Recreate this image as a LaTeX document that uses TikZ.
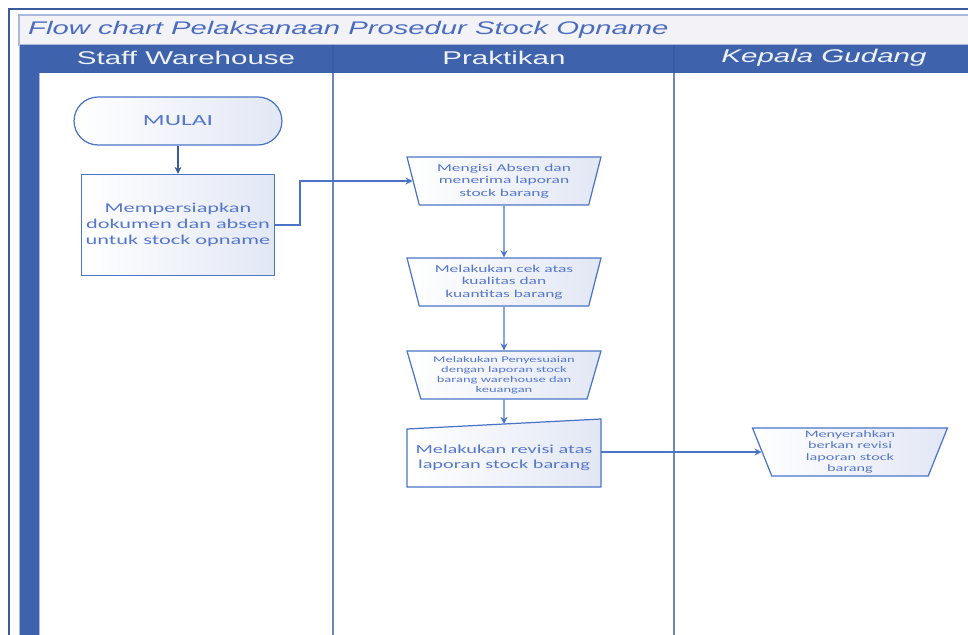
\documentclass[tikz,border=0pt]{standalone}
\usepackage{fontspec}
\usepackage{xcolor}
\usepackage{tikz}
\usetikzlibrary{shapes,arrows,positioning,calc,arrows.meta}

\newfontfamily\lanefont[FakeStretch=1.6]{Liberation Sans}
\newfontfamily\boxfont[FakeStretch=1.65]{Carlito}

\definecolor{headblue}{HTML}{3E62AC}
\definecolor{lineblue}{HTML}{4A74C6}
\definecolor{darkline}{HTML}{3A5C9C}
\definecolor{txtblue}{HTML}{5577CC}
\definecolor{shadeblue}{HTML}{E2E7F5}
\definecolor{titlegray}{HTML}{F3F3F7}
\definecolor{titleblue}{HTML}{4A6CC0}
\definecolor{lanegray}{HTML}{6E86BC}
\definecolor{framelight}{HTML}{A9B9DC}

\tikzset{
    flowline/.style={draw=lineblue, line width=0.7pt},
    flowarrow/.style={flowline, -{Stealth[length=4pt,width=4pt]}},
    shapebox/.style={draw=lineblue, line width=0.7pt, left color=white, right color=shadeblue,
        text=txtblue, align=center, inner sep=0pt},
    terminal/.style={shapebox, rectangle, rounded corners=0.48cm, minimum width=4.16cm, minimum height=0.96cm},
    process/.style={shapebox, rectangle, minimum width=3.86cm, minimum height=2.02cm},
    manualop/.style={shapebox, trapezium, shape border rotate=180, trapezium angle=70,
        trapezium stretches body, minimum width=3.88cm, minimum height=0.96cm},
    lanehead/.style={text=white!92!headblue, font=\lanefont\fontsize{10.5}{12}\selectfont}
}

\begin{document}
\begin{tikzpicture}[x=0.02cm, y=-0.02cm]
    \useasboundingbox (0,0) rectangle (968,635);

    % Frame
    \draw[darkline, line width=0.6pt] (9,9) rectangle (990,660);
    \draw[framelight, fill=titlegray, line width=0.6pt] (19,15) rectangle (990,45);
    \node[right, text=titleblue, font=\lanefont\itshape\fontsize{10.4}{12}\selectfont] (title) at (22,30)
        {Flow chart Pelaksanaan Prosedur Stock Opname};

    % Lanes
    \fill[headblue] (20,45) rectangle (990,73);
    \fill[headblue] (20,73) rectangle (39,660);
    \draw[framelight, line width=0.5pt] (19,45) -- (19,660);
    \draw[framelight, line width=0.5pt] (39.5,73) -- (39.5,660);
    \draw[darkline, line width=0.6pt] (333,45) -- (333,73);
    \draw[darkline, line width=0.6pt] (674,45) -- (674,73);
    \draw[lanegray, line width=1.4pt] (333,73) -- (333,660);
    \draw[lanegray, line width=1.4pt] (674,73) -- (674,660);
    \node[lanehead] (staff) at (186,58) {Staff Warehouse};
    \node[lanehead] (praktikan) at (504,58) {Praktikan};
    \node[lanehead, font=\lanefont\itshape\fontsize{10.5}{12}\selectfont] (kepala) at (824,58) {Kepala Gudang};

    % Staff Warehouse
    \node[terminal, font=\boxfont\fontsize{8.8}{10}\selectfont] (mulai) at (178,121) {MULAI};
    \node[process, font=\boxfont\fontsize{7.7}{9}\selectfont] (siap) at (178,225)
        {Mempersiapkan\\dokumen dan absen\\untuk stock opname};

    % Praktikan
    \node[manualop, font=\boxfont\fontsize{6}{7}\selectfont] (absen) at (504,181)
        {Mengisi Absen dan\\menerima laporan\\stock barang};
    \node[manualop, font=\boxfont\fontsize{6}{7}\selectfont] (cek) at (504,282)
        {Melakukan cek atas\\kualitas dan\\kuantitas barang};
    \node[manualop, font=\boxfont\fontsize{5}{5.8}\selectfont] (sesuai) at (504,375)
        {Melakukan Penyesuaian\\dengan laporan stock\\barang warehouse dan\\keuangan};
    \coordinate (revisi sw) at (407,487);
    \coordinate (revisi ne) at (601,419);
    \coordinate (revisi top) at (504,424);
    \coordinate (revisi east) at (601,452);
    \path[shapebox] (revisi sw) -- (revisi sw -| revisi ne) -- (revisi ne)
        -- ($(revisi sw |- revisi ne)+(0,10)$) -- cycle;
    \node[text=txtblue, align=center, font=\boxfont\fontsize{7}{8.5}\selectfont] (revisi) at (504,458)
        {Melakukan revisi atas\\laporan stock barang};

    % Kepala Gudang
    \node[manualop, trapezium angle=66, minimum width=3.9cm, font=\boxfont\fontsize{5.6}{6.6}\selectfont] (serah) at (850,452)
        {Menyerahkan\\berkan revisi\\laporan stock\\barang};

    % Connectors
    \draw[flowarrow, draw=darkline] (mulai) -- (siap);
    \draw[flowarrow] (siap.east) -- ++(25,0) |- (absen.west);
    \draw[flowarrow] (absen) -- (cek);
    \draw[flowarrow] (cek) -- (sesuai);
    \draw[flowarrow] (sesuai.south) -- (revisi top);
    \draw[flowarrow] (revisi east) -- (revisi east -| serah.west);
\end{tikzpicture}
\end{document}
